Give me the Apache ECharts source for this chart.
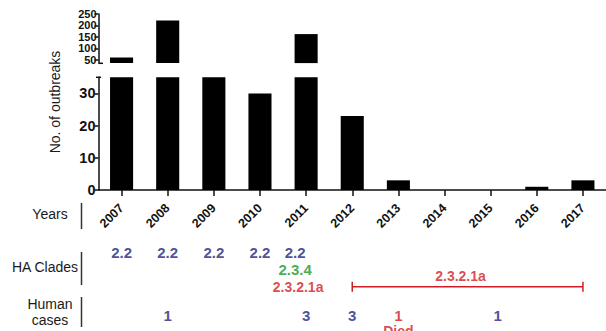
<!DOCTYPE html>
<html><head><meta charset="utf-8">
<script src="https://cdn.jsdelivr.net/npm/echarts@6/dist/echarts.min.js"></script>
<style>html,body{margin:0;padding:0;background:#fff}#c{width:606px;height:331px}</style>
</head><body><div id="c"></div>
<script>
// ---- data ----
const years = ['2007','2008','2009','2010','2011','2012','2013','2014','2015','2016','2017'];
const outbreaks = [60, 221, 35, 30, 162, 23, 3, 0, 0, 1, 3];
const topTicks = [50, 100, 150, 200, 250];
const bottomTicks = [0, 10, 20, 30];
const clade22Years = ['2007','2008','2009','2010','2011'];
const clade234Years = ['2011'];
const clade2321aYears = ['2011'];
const cladeRange = ['2012', '2017'];
const cladeRangeLabel = '2.3.2.1a';
const humanCaseYears = ['2008','2011','2012','2013','2015'];
const humanCaseCounts = ['1','3','3','1','1'];
const humanDiedYears = ['2013'];
const diedNote = 'Died';

// ---- styles ----
const FONT = 'Liberation Sans, Arial, sans-serif';
const BLUE = '#22227e', GREEN = '#1c981f', RED = '#d01c24', INK = '#111';
const L = 98.5, W = 509.7;
const rowLevel = {c1: 0.5, c2: 1.45, c3: 2.45, rangeLbl: 1.85, human: 4.1, died: 5.0};
const colShift = {'2011': -11};

function textSeries(yrs, texts, level, colorFn, size, extraShift) {
  return {
    type: 'scatter', xAxisIndex: 2, yAxisIndex: 2, symbolSize: 1,
    itemStyle: {color: 'rgba(0,0,0,0)'}, silent: true,
    data: yrs.map((y, i) => ({
      value: [y, level],
      label: {
        show: true, position: 'inside', formatter: texts[i],
        color: colorFn(y), fontSize: size, fontWeight: 'bold', fontFamily: FONT,
        offset: [(extraShift ? (extraShift[y] || 0) : 0), 0]
      }
    }))
  };
}

const chart = echarts.init(document.getElementById('c'), null, {renderer: 'svg'});
const axisLine = {show: true, lineStyle: {color: '#111', width: 1.5}};
chart.setOption({
  animation: false,
  backgroundColor: '#fff',
  grid: [
    {left: L, width: W, top: 14, height: 49.1},
    {left: L, width: W, top: 77.3, height: 112.7},
    {left: L, width: W, top: 244, height: 90}
  ],
  xAxis: [
    {type: 'category', gridIndex: 0, data: years, show: false},
    {type: 'category', gridIndex: 1, data: years,
      axisLine: axisLine,
      axisTick: {show: true, alignWithLabel: true, length: 6, lineStyle: {color: '#111', width: 1.5}},
      axisLabel: {rotate: 45, margin: 16, fontSize: 12.5, fontWeight: 'bold', color: INK, fontFamily: FONT, interval: 0}},
    {type: 'category', gridIndex: 2, data: years, show: false}
  ],
  yAxis: [
    {type: 'value', gridIndex: 0, min: 35, max: 250,
      axisLine: axisLine, splitLine: {show: false},
      axisTick: {show: true, length: 4, customValues: topTicks, lineStyle: {color: '#111', width: 1.5}},
      axisLabel: {customValues: topTicks, hideOverlap: false, fontSize: 11, lineHeight: 11, fontWeight: 'bold', color: INK, margin: 2, fontFamily: FONT}},
    {type: 'value', gridIndex: 1, min: 0, max: 35,
      axisLine: axisLine, splitLine: {show: false},
      axisTick: {show: true, length: 4, customValues: bottomTicks, lineStyle: {color: '#111', width: 1.5}},
      axisLabel: {customValues: bottomTicks, fontSize: 14.5, fontWeight: 'bold', color: INK, margin: 3, fontFamily: FONT}},
    {type: 'value', gridIndex: 2, min: 0, max: 5, inverse: true, show: false}
  ],
  series: [
    {type: 'bar', xAxisIndex: 0, yAxisIndex: 0, data: outbreaks, barWidth: '50%', itemStyle: {color: '#000'}, clip: true},
    {type: 'bar', xAxisIndex: 1, yAxisIndex: 1, data: outbreaks, barWidth: '50%', itemStyle: {color: '#000'}, clip: true},
    textSeries(clade22Years, clade22Years.map(() => '2.2'), rowLevel.c1, () => BLUE, 15, colShift),
    textSeries(clade234Years, ['2.3.4'], rowLevel.c2, () => GREEN, 15, colShift),
    textSeries(clade2321aYears, ['2.3.2.1a'], rowLevel.c3, () => RED, 14, {'2011': -8}),
    {type: 'line', xAxisIndex: 2, yAxisIndex: 2, silent: true,
      data: [[cladeRange[0], rowLevel.c3], [cladeRange[1], rowLevel.c3]],
      lineStyle: {color: RED, width: 1.5}, itemStyle: {color: RED},
      symbol: 'rect', symbolSize: [1.5, 10]},
    textSeries(['2014'], [cladeRangeLabel], rowLevel.rangeLbl, () => RED, 14, {'2014': 16}),
    textSeries(humanCaseYears, humanCaseCounts, rowLevel.human,
      y => humanDiedYears.includes(y) ? RED : BLUE, 15, {'2015': 7}),
    textSeries(humanDiedYears, [diedNote], rowLevel.died, () => RED, 14, null)
  ],
  graphic: [
    {type: 'text', x: 55, y: 102, rotation: Math.PI / 2,
      style: {text: 'No. of outbreaks', fontSize: 14, fontFamily: FONT, fill: '#1a1a1a', align: 'center', verticalAlign: 'middle'}},
    {type: 'line', shape: {x1: L, y1: 63.3, x2: L + 4.5, y2: 63.3}, style: {stroke: '#111', lineWidth: 1.5}},
    {type: 'line', shape: {x1: L - 2.5, y1: 77.3, x2: L + 2.5, y2: 77.3}, style: {stroke: '#111', lineWidth: 1.5}},
    {type: 'text', x: 50, y: 214, style: {text: 'Years', fontSize: 14, fontFamily: FONT, fill: '#1a1a1a', align: 'center', verticalAlign: 'middle'}},
    {type: 'line', shape: {x1: 81.5, y1: 203, x2: 81.5, y2: 229}, style: {stroke: '#333', lineWidth: 1.5}},
    {type: 'text', x: 45, y: 267, style: {text: 'HA Clades', fontSize: 14, fontFamily: FONT, fill: '#1a1a1a', align: 'center', verticalAlign: 'middle'}},
    {type: 'line', shape: {x1: 81.5, y1: 252, x2: 81.5, y2: 285}, style: {stroke: '#333', lineWidth: 1.5}},
    {type: 'text', x: 50, y: 304, style: {text: 'Human', fontSize: 14, fontFamily: FONT, fill: '#1a1a1a', align: 'center', verticalAlign: 'middle'}},
    {type: 'text', x: 50, y: 320, style: {text: 'cases', fontSize: 14, fontFamily: FONT, fill: '#1a1a1a', align: 'center', verticalAlign: 'middle'}},
    {type: 'line', shape: {x1: 81.5, y1: 297, x2: 81.5, y2: 327}, style: {stroke: '#333', lineWidth: 1.5}}
  ]
});
</script>
</body></html>
